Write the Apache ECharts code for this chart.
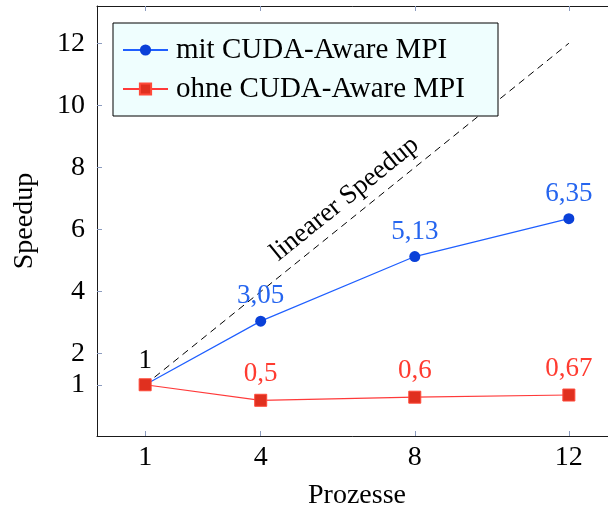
<!DOCTYPE html>
<html>
<head>
<meta charset="utf-8">
<script src="https://cdn.jsdelivr.net/npm/echarts@6/dist/echarts.min.js"></script>
<style>
  html, body { margin: 0; padding: 0; background: #fff; }
  #chart { width: 608px; height: 508px; }
</style>
</head>
<body>
<div id="chart"></div>
<script>
// Speedup measurements per number of processes
const processes = [1, 4, 8, 12];
const speedupWithCudaAware = [1, 3.05, 5.13, 6.35];
const speedupWithoutCudaAware = [1, 0.5, 0.6, 0.67];

// Ideal (linear) speedup reference
const linearX = [1, 12];
const linearY = [1, 12];

// Tick positions
const xTicks = [1, 4, 8, 12];
const yTicks = [1, 2, 4, 6, 8, 10, 12];

const seriesNames = ['mit CUDA-Aware MPI', 'ohne CUDA-Aware MPI'];

const FONT = 'Liberation Serif';
const TICK_COLOR = '#8c9cbf';
const AXIS_COLOR = '#1a1a1a';
const BLUE_LINE = '#1f5fff';
const BLUE_MARK = '#0a40d8';
const BLUE_TEXT = '#2565ef';
const RED_LINE = '#ff3a3a';
const RED_MARK = '#e0301f';
const RED_TEXT = '#ff3b30';

const fmtComma = (v) => String(v).replace('.', ',');

function pointData(ys) {
  return processes.map((x, i) => ({
    value: [x, ys[i]],
    label: { show: i > 0 }
  }));
}

const chart = echarts.init(document.getElementById('chart'), null, { renderer: 'canvas' });

const xMin = -0.25, xMax = 13.25;
const yMin = -0.65, yMax = 13.2;

const baseX = {
  type: 'value', min: xMin, max: xMax,
  splitLine: { show: false },
  axisLine: { show: true, onZero: false, lineStyle: { color: AXIS_COLOR, width: 1 } },
  axisTick: { show: true, inside: true, length: 5, customValues: xTicks, lineStyle: { color: TICK_COLOR, width: 1 } }
};
const baseY = {
  type: 'value', min: yMin, max: yMax,
  splitLine: { show: false },
  axisLine: { show: true, onZero: false, lineStyle: { color: AXIS_COLOR, width: 1 } },
  axisTick: { show: true, inside: true, length: 5, customValues: yTicks, lineStyle: { color: TICK_COLOR, width: 1 } }
};

chart.setOption({
  animation: false,
  backgroundColor: '#ffffff',
  // plot box runs slightly past the right edge of the canvas
  grid: { left: 97, top: 6, width: 520, height: 430, containLabel: false, outerBoundsMode: 'none' },
  xAxis: [
    Object.assign({}, baseX, {
      position: 'bottom',
      name: 'Prozesse', nameLocation: 'middle', nameGap: 46,
      nameTextStyle: { fontFamily: FONT, fontSize: 28, color: '#000' },
      axisLabel: { show: true, customValues: xTicks, margin: 8, fontFamily: FONT, fontSize: 28, color: '#000' }
    }),
    Object.assign({}, baseX, { position: 'top', axisLabel: { show: false } })
  ],
  yAxis: [
    Object.assign({}, baseY, {
      position: 'left',
      name: 'Speedup', nameLocation: 'middle', nameGap: 58, nameRotate: 90,
      nameTextStyle: { fontFamily: FONT, fontSize: 28, color: '#000' },
      axisLabel: { show: true, customValues: yTicks, margin: 12, fontFamily: FONT, fontSize: 28, color: '#000' }
    }),
    Object.assign({}, baseY, { position: 'right', axisLabel: { show: false } })
  ],
  legend: {
    left: 113, top: 23,
    orient: 'vertical',
    data: seriesNames,
    backgroundColor: '#effefe',
    borderColor: '#000', borderWidth: 1, borderRadius: 0,
    padding: [12, 12, 12, 9],
    itemWidth: 45, itemHeight: 14, itemGap: 9,
    textStyle: { fontFamily: FONT, fontSize: 29, color: '#000', lineHeight: 30, width: 310, padding: [0, 0, 0, 3] }
  },
  series: [
    {
      name: 'linearer Speedup',
      type: 'line',
      data: linearX.map((x, i) => ({ value: [x, linearY[i]], label: { show: i === 0 } })),
      symbol: 'circle', symbolSize: 0, showSymbol: true,
      lineStyle: { color: '#000', width: 1, type: [7, 5] },
      itemStyle: { color: '#000' },
      label: {
        position: 'top', distance: 10,
        fontFamily: FONT, fontSize: 27, color: '#000',
        formatter: (p) => fmtComma(p.value[1])
      },
      markLine: {
        silent: true,
        symbol: 'none',
        lineStyle: { color: 'transparent', width: 0 },
        label: {
          show: true, position: 'insideMiddleTop', distance: 6,
          formatter: 'linearer Speedup',
          fontFamily: FONT, fontSize: 27, color: '#000'
        },
        data: [[{ coord: [linearX[0], linearY[0]] }, { coord: [linearX[1], linearY[1]] }]]
      },
      z: 1
    },
    {
      name: seriesNames[0],
      type: 'line',
      data: pointData(speedupWithCudaAware),
      symbol: 'circle', symbolSize: 11,
      lineStyle: { color: BLUE_LINE, width: 1.2 },
      itemStyle: { color: BLUE_MARK, borderColor: BLUE_MARK, borderWidth: 0 },
      label: {
        position: 'top', distance: 6,
        fontFamily: FONT, fontSize: 27, color: BLUE_TEXT,
        formatter: (p) => fmtComma(p.value[1])
      },
      z: 2
    },
    {
      name: seriesNames[1],
      type: 'line',
      data: pointData(speedupWithoutCudaAware),
      symbol: 'rect', symbolSize: 12,
      lineStyle: { color: RED_LINE, width: 1.2 },
      itemStyle: { color: RED_MARK, borderColor: '#ff4a3a', borderWidth: 1 },
      label: {
        position: 'top', distance: 6,
        fontFamily: FONT, fontSize: 27, color: RED_TEXT,
        formatter: (p) => fmtComma(p.value[1])
      },
      z: 3
    }
  ]
});
</script>
</body>
</html>
